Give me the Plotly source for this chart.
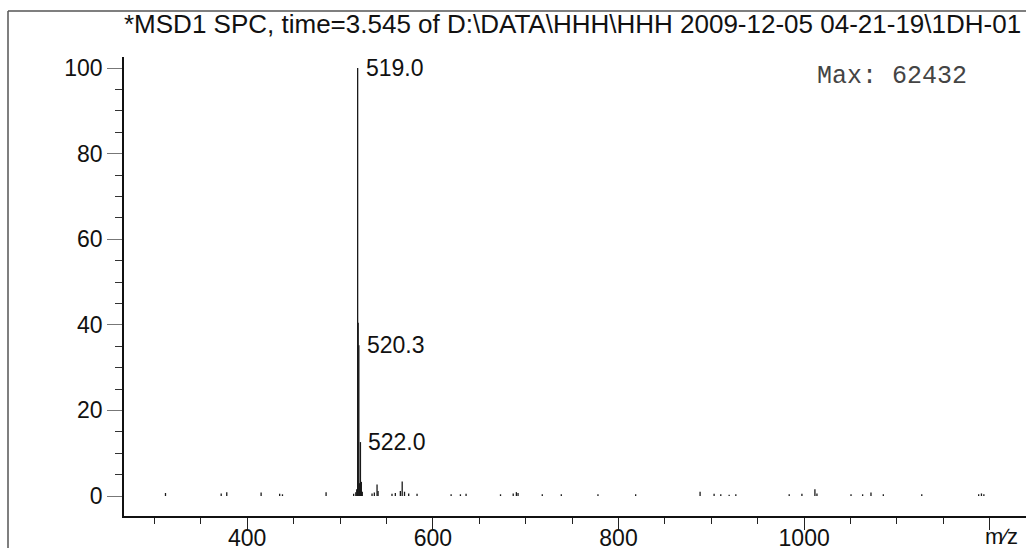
import plotly.graph_objects as go

# ---- data ----
mz = [312.0, 372.0, 378.0, 415.0, 435.0, 438.0, 485.0, 514.7, 517.0, 518.0,
      519.0, 519.6, 520.3, 521.0, 522.0, 523.0, 524.0, 534.5, 537.0, 539.9,
      541.0, 556.0, 559.6, 565.0, 567.0, 569.5, 574.0, 583.0, 619.7, 629.7,
      635.8, 672.9, 686.6, 690.0, 691.8, 717.9, 738.4, 777.9, 818.5, 887.9,
      903.0, 910.2, 919.2, 926.4, 983.9, 997.6, 1011.6, 1013.8, 1050.5, 1063.0,
      1072.0, 1085.3, 1126.7, 1188.0, 1191.0, 1193.6]
intensity = [0.7, 0.6, 0.9, 0.8, 0.5, 0.4, 0.9, 0.5, 0.9, 1.6,
             100.0, 40.5, 35.2, 3.0, 12.6, 3.3, 1.0, 0.6, 0.8, 2.7,
             1.2, 0.5, 0.7, 1.2, 3.4, 1.0, 0.6, 0.5, 0.4, 0.4,
             0.5, 0.4, 0.6, 0.9, 0.7, 0.4, 0.4, 0.4, 0.4, 1.0,
             0.5, 0.4, 0.3, 0.4, 0.4, 0.5, 1.6, 0.6, 0.4, 0.4,
             0.8, 0.4, 0.4, 0.4, 0.6, 0.4]
label_mz = [519.0, 520.3, 522.0]
label_int = [100.0, 35.2, 12.6]
label_text = ["519.0", "520.3", "522.0"]
title_text = "*MSD1 SPC, time=3.545 of D:\\DATA\\HHH\\HHH 2009-12-05 04-21-19\\1DH-01"
max_text = "Max: 62432"
y_ticks = [0, 20, 40, 60, 80, 100]
x_ticks = [400, 600, 800, 1000, 1200]
x_ticktext = ["400", "600", "800", "1000", ""]

# stick spectrum built from the data
xs, ys = [], []
for m, v in zip(mz, intensity):
    xs += [m, m, None]
    ys += [0, v, None]

fig = go.Figure()
fig.add_trace(go.Scatter(x=xs, y=ys, mode="lines",
                         line=dict(color="#1a1a1a", width=1.3),
                         hoverinfo="skip", showlegend=False))

for m, v, t in zip(label_mz, label_int, label_text):
    fig.add_annotation(x=m, y=v, text=t, showarrow=False, xanchor="left",
                       yanchor="middle", xshift=6,
                       font=dict(family="Liberation Sans, Arial", size=23, color="#111"))

# title and max text
fig.add_annotation(xref="paper", yref="paper", x=(122 - 124) / 902, y=1.0 + (57 - 24) / 459,
                   text=title_text, showarrow=False, xanchor="left", yanchor="middle",
                   font=dict(family="Liberation Sans, Arial", size=26, color="#111"))
fig.add_annotation(xref="paper", yref="paper", x=(815 - 124) / 902, y=1.0 - (76 - 57) / 459,
                   text=max_text, showarrow=False, xanchor="left", yanchor="middle",
                   font=dict(family="Liberation Mono, Courier New, monospace", size=25, color="#444"))
# m/z axis label
fig.add_annotation(xref="x", yref="paper", x=1213, y=-(536 - 516) / 459,
                   text="m\u2215z", showarrow=False, xanchor="center", yanchor="middle",
                   font=dict(family="Liberation Sans, Arial", size=22, color="#111"))

# outer frame (left and top edges)
fig.add_shape(type="line", xref="paper", yref="paper",
              x0=(8 - 124) / 902, x1=(8 - 124) / 902,
              y0=1 + (57 - 11) / 459, y1=-(548 - 516) / 459 - 0.01,
              line=dict(color="#555", width=1.5))
fig.add_shape(type="line", xref="paper", yref="paper",
              x0=(8 - 124) / 902, x1=1.01,
              y0=1 + (57 - 11) / 459, y1=1 + (57 - 11) / 459,
              line=dict(color="#555", width=1.5))

fig.update_layout(
    width=1026, height=548,
    margin=dict(l=124, r=0, t=57, b=32, autoexpand=False),
    paper_bgcolor="white", plot_bgcolor="white",
    showlegend=False,
    xaxis=dict(range=[267.3, 1239], tickmode="array", tickvals=x_ticks, ticktext=x_ticktext,
               automargin=False, ticklabelstandoff=-11,
               ticks="outside", ticklen=12, tickwidth=1.3, tickcolor="#222",
               showline=True, linecolor="#111", linewidth=1.5,
               showgrid=False, zeroline=False,
               minor=dict(tick0=0, dtick=50, ticks="outside", ticklen=6,
                          tickcolor="#222", tickwidth=1.2, showgrid=False),
               tickfont=dict(family="Liberation Sans, Arial", size=23, color="#111")),
    yaxis=dict(range=[-4.67, 102.57], tickmode="array", tickvals=y_ticks,
               automargin=False,
               ticks="outside", ticklen=15, tickwidth=1.3, tickcolor="#777",
               showline=True, linecolor="#111", linewidth=1.5,
               showgrid=False, zeroline=False,
               minor=dict(tick0=0, dtick=5, ticks="outside", ticklen=7,
                          tickcolor="#333", tickwidth=1.2, showgrid=False),
               tickfont=dict(family="Liberation Sans, Arial", size=23, color="#111")),
)

fig.write_html("out.html", config={"displayModeBar": False},
               post_script="document.body.style.margin='0';document.body.style.overflow='hidden';")
